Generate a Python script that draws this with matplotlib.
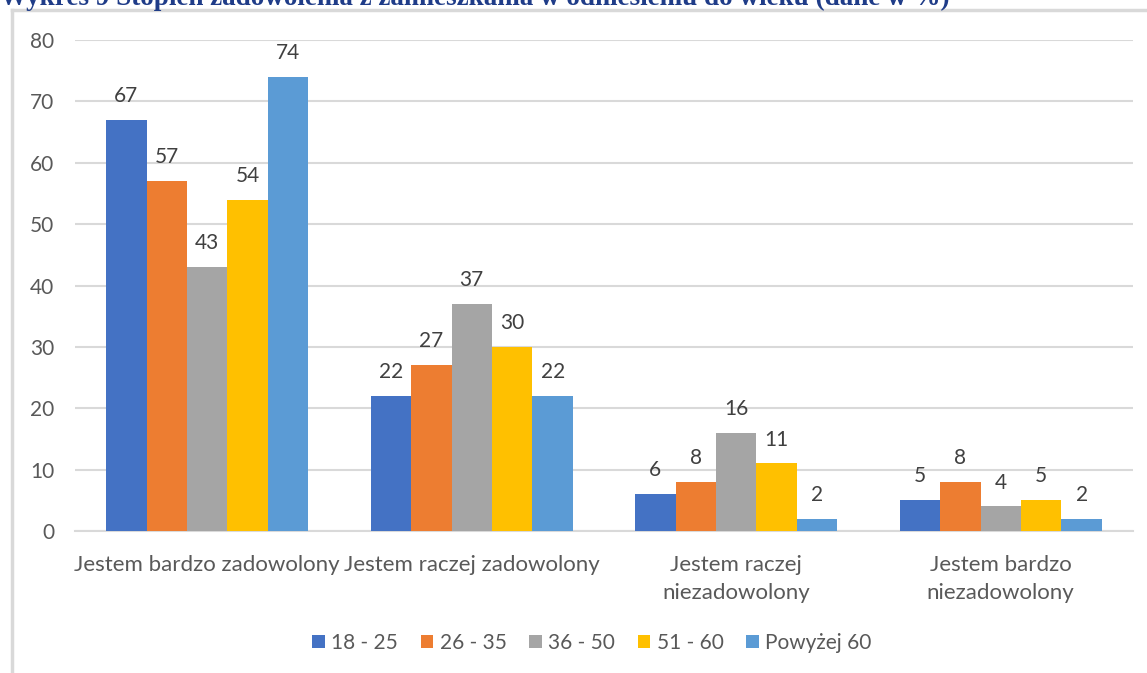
import matplotlib
matplotlib.use("Agg")
import matplotlib.pyplot as plt
from matplotlib.lines import Line2D
import numpy as np

categories = ["Jestem bardzo zadowolony", "Jestem raczej zadowolony",
              "Jestem raczej\nniezadowolony", "Jestem bardzo\nniezadowolony"]
series_names = ["18 - 25", "26 - 35", "36 - 50", "51 - 60", "Powyżej 60"]
s18_25 = [67, 22, 6, 5]
s26_35 = [57, 27, 8, 8]
s36_50 = [43, 37, 16, 4]
s51_60 = [54, 30, 11, 5]
s60plus = [74, 22, 2, 2]
yticks = [0, 10, 20, 30, 40, 50, 60, 70, 80]
title = "Wykres 9 Stopień zadowolenia z zamieszkania w odniesieniu do wieku (dane w %)"

colors = ["#4472C4", "#ED7D31", "#A5A5A5", "#FFC000", "#5B9BD5"]
series = [s18_25, s26_35, s36_50, s51_60, s60plus]

plt.rcParams['font.family'] = ['Lato', 'DejaVu Sans']
W, H = 1147, 673
fig = plt.figure(figsize=(W / 100, H / 100), dpi=100)

# outer frame
fig.add_artist(Line2D([12 / W, 12 / W], [0, 1 - 10 / H], color="#D9D9D9", lw=2.5))
fig.add_artist(Line2D([12 / W, 1], [1 - 10 / H, 1 - 10 / H], color="#D9D9D9", lw=2.5))

fig.text(0 / W, 1 - 5 / H, title, fontsize=19.5, fontweight='bold', color="#1F3C88",
         family=['Liberation Serif', 'DejaVu Serif'], va='baseline', ha='left')

ax = fig.add_axes([75 / W, 1 - 531 / H, (1133 - 75) / W, (531 - 40) / H])
x = np.arange(len(categories))
n = len(series)
bw = 0.153
for i, (vals, c, name) in enumerate(zip(series, colors, series_names)):
    pos = x + (i - (n - 1) / 2) * bw
    ax.bar(pos, vals, width=bw, color=c, label=name, zorder=3)
    for xp, v in zip(pos, vals):
        ax.annotate(f"{v}", (xp, v), xytext=(0, 10), textcoords='offset points',
                    ha='center', va='bottom', fontsize=15, color="#404040")

ax.set_xlim(-0.5, len(categories) - 0.5)
ax.set_ylim(0, 80)
ax.set_yticks(yticks)
ax.yaxis.grid(True, color="#D9D9D9", lw=1.5, zorder=0)
ax.set_axisbelow(True)
for s in ["top", "right", "left"]:
    ax.spines[s].set_visible(False)
ax.spines["bottom"].set_color("#D9D9D9")
ax.spines["bottom"].set_linewidth(1.5)
ax.tick_params(axis='both', length=0, labelcolor="#595959")
ax.tick_params(axis='y', pad=15, labelsize=15)
ax.tick_params(axis='x', pad=17, labelsize=16)
ax.set_xticks(x)
ax.set_xticklabels(categories, linespacing=1.55)

leg = fig.legend(loc='center', bbox_to_anchor=(592 / W, 1 - 643 / H), ncol=5,
                 frameon=False, fontsize=15, handlelength=0.6, handleheight=0.6,
                 handletextpad=0.3, columnspacing=1.1, labelcolor="#595959")

fig.savefig("out.png", dpi=100)
